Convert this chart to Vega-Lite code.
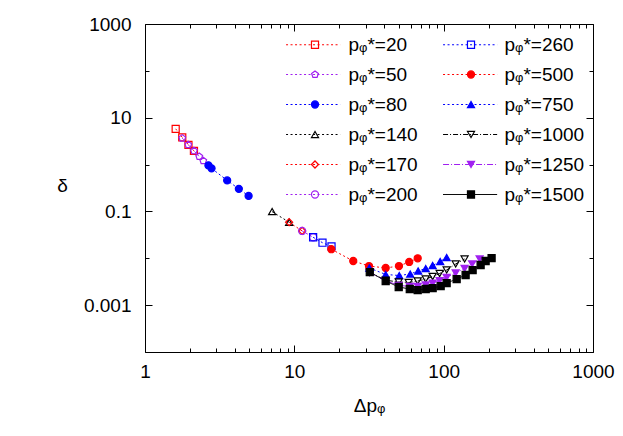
{
  "$schema": "https://vega.github.io/schema/vega-lite/v6.json",
  "width": 448,
  "height": 328,
  "autosize": "none",
  "padding": {"left": 145, "top": 24, "right": 30, "bottom": 84},
  "config": {
    "view": {"stroke": "#000", "strokeWidth": 1},
    "font": "Liberation Sans",
    "axis": {"domain": false, "grid": false, "labelFont": "Liberation Sans", "labelFontSize": 19, "labelColor": "#000", "tickColor": "#000", "tickWidth": 1, "titleFont": "Liberation Sans", "titleFontSize": 19, "titleFontWeight": "normal", "titleColor": "#000", "labelOverlap": false, "labelBound": false, "labelFlush": false}
  },
  "data": {"values": [
    {"p": 20, "dp": 1.605, "delta": 5.79}, {"p": 20, "dp": 1.776, "delta": 3.81}, {"p": 20, "dp": 1.954, "delta": 2.64}, {"p": 20, "dp": 2.127, "delta": 1.96},
    {"p": 50, "dp": 1.776, "delta": 3.66}, {"p": 50, "dp": 1.949, "delta": 2.64}, {"p": 50, "dp": 2.127, "delta": 1.96}, {"p": 50, "dp": 2.308, "delta": 1.48}, {"p": 50, "dp": 2.455, "delta": 1.2},
    {"p": 80, "dp": 2.66, "delta": 0.96}, {"p": 80, "dp": 2.79, "delta": 0.83}, {"p": 80, "dp": 3.55, "delta": 0.459}, {"p": 80, "dp": 4.25, "delta": 0.303}, {"p": 80, "dp": 4.94, "delta": 0.214},
    {"p": 140, "dp": 7.1, "delta": 0.099}, {"p": 140, "dp": 9.23, "delta": 0.0588},
    {"p": 170, "dp": 9.23, "delta": 0.0588}, {"p": 170, "dp": 11.28, "delta": 0.0383},
    {"p": 200, "dp": 11.28, "delta": 0.0383}, {"p": 200, "dp": 13.36, "delta": 0.0281},
    {"p": 260, "dp": 13.36, "delta": 0.0281}, {"p": 260, "dp": 15.44, "delta": 0.0215}, {"p": 260, "dp": 17.74, "delta": 0.0179},
    {"p": 500, "dp": 17.69, "delta": 0.0156}, {"p": 500, "dp": 24.8, "delta": 0.00875}, {"p": 500, "dp": 31.6, "delta": 0.00684}, {"p": 500, "dp": 40.9, "delta": 0.00621}, {"p": 500, "dp": 50.2, "delta": 0.00684}, {"p": 500, "dp": 58.8, "delta": 0.00834}, {"p": 500, "dp": 67.0, "delta": 0.01},
    {"p": 750, "dp": 31.8, "delta": 0.00621}, {"p": 750, "dp": 40.9, "delta": 0.00451}, {"p": 750, "dp": 50.4, "delta": 0.00429}, {"p": 750, "dp": 59.7, "delta": 0.00462}, {"p": 750, "dp": 67.5, "delta": 0.00536}, {"p": 750, "dp": 75.8, "delta": 0.00605}, {"p": 750, "dp": 84.4, "delta": 0.00702}, {"p": 750, "dp": 94.8, "delta": 0.00855}, {"p": 750, "dp": 104.7, "delta": 0.0104},
    {"p": 1000, "dp": 32.0, "delta": 0.005}, {"p": 1000, "dp": 40.9, "delta": 0.0034}, {"p": 1000, "dp": 50.0, "delta": 0.00312}, {"p": 1000, "dp": 58.3, "delta": 0.00304}, {"p": 1000, "dp": 67.0, "delta": 0.00327}, {"p": 1000, "dp": 75.8, "delta": 0.00361}, {"p": 1000, "dp": 84.4, "delta": 0.00408}, {"p": 1000, "dp": 94.0, "delta": 0.00473}, {"p": 1000, "dp": 104.7, "delta": 0.00562}, {"p": 1000, "dp": 120.3, "delta": 0.00755}, {"p": 1000, "dp": 138.1, "delta": 0.00966},
    {"p": 1250, "dp": 32.0, "delta": 0.005}, {"p": 1250, "dp": 40.9, "delta": 0.0033}, {"p": 1250, "dp": 50.0, "delta": 0.00265}, {"p": 1250, "dp": 59.3, "delta": 0.0025}, {"p": 1250, "dp": 67.0, "delta": 0.0025}, {"p": 1250, "dp": 75.8, "delta": 0.00269}, {"p": 1250, "dp": 84.4, "delta": 0.00296}, {"p": 1250, "dp": 94.0, "delta": 0.00335}, {"p": 1250, "dp": 104.7, "delta": 0.00389}, {"p": 1250, "dp": 120.3, "delta": 0.00485}, {"p": 1250, "dp": 138.1, "delta": 0.00605}, {"p": 1250, "dp": 155.1, "delta": 0.00755}, {"p": 1250, "dp": 174.1, "delta": 0.00966},
    {"p": 1500, "dp": 32.0, "delta": 0.00509}, {"p": 1500, "dp": 40.9, "delta": 0.00327}, {"p": 1500, "dp": 50.0, "delta": 0.00244}, {"p": 1500, "dp": 59.3, "delta": 0.00221}, {"p": 1500, "dp": 67.0, "delta": 0.0021}, {"p": 1500, "dp": 75.8, "delta": 0.00221}, {"p": 1500, "dp": 84.4, "delta": 0.00232}, {"p": 1500, "dp": 95.5, "delta": 0.00256}, {"p": 1500, "dp": 104.7, "delta": 0.00296}, {"p": 1500, "dp": 122.2, "delta": 0.00361}, {"p": 1500, "dp": 140.3, "delta": 0.0044}, {"p": 1500, "dp": 156.3, "delta": 0.00562}, {"p": 1500, "dp": 176.8, "delta": 0.00719}, {"p": 1500, "dp": 191.0, "delta": 0.00875}, {"p": 1500, "dp": 209.4, "delta": 0.0101}
  ]},
  "layer": [
    {
      "mark": {"type": "line", "strokeWidth": 1},
      "encoding": {
        "x": {"field": "dp", "type": "quantitative", "scale": {"type": "log", "domain": [1, 1000]},
          "axis": {"orient": "bottom", "values": [1,2,3,4,5,6,7,8,9,10,20,30,40,50,60,70,80,90,100,200,300,400,500,600,700,800,900,1000],
            "tickSize": {"condition": {"test": "datum.value==1||datum.value==10||datum.value==100||datum.value==1000", "value": -7}, "value": -4},
            "labelExpr": "(datum.value==1||datum.value==10||datum.value==100||datum.value==1000) ? format(datum.value,'d') : ''",
            "labelPadding": 17, "title": "Δpᵩ", "titleY": 53, "titleBaseline": "middle"}},
        "y": {"field": "delta", "type": "quantitative", "scale": {"type": "log", "domain": [0.0001, 1000]},
          "axis": {"orient": "left", "values": [0.0001,0.001,0.01,0.1,1,10,100,1000],
            "tickSize": {"condition": {"test": "datum.value>500||(datum.value>5&&datum.value<20)||(datum.value>0.05&&datum.value<0.2)||(datum.value>0.0005&&datum.value<0.002)", "value": -7}, "value": -4},
            "labelExpr": "datum.value>500 ? '1000' : (datum.value>5&&datum.value<20) ? '10' : (datum.value>0.05&&datum.value<0.2) ? '0.1' : (datum.value>0.0005&&datum.value<0.002) ? '0.001' : ''",
            "labelPadding": 21, "title": "δ", "titleAngle": 0, "titleX": -83, "titleY": 161, "titleAlign": "center", "titleBaseline": "middle"}},
        "color": {"field": "p", "type": "ordinal",
          "scale": {"domain": [20,50,80,140,170,200,260,500,750,1000,1250,1500], "range": ["#ff0000","#a020f0","#0000ff","#000000","#ff0000","#a020f0","#0000ff","#ff0000","#0000ff","#000000","#a020f0","#000000"]},
          "legend": {"orient": "none", "legendX": 137, "legendY": 11, "columns": 2, "columnPadding": 94, "rowPadding": 10, "title": null,
            "symbolType": "M-5,0L5,0", "symbolSize": 117, "symbolStrokeWidth": 1, "symbolOffset": 21.6,
            "labelFont": "Liberation Sans", "labelFontSize": 19, "labelColor": "#000", "labelOpacity": 0, "labelOffset": 22, "labelExpr": "'             '"}},
        "strokeDash": {"field": "p", "type": "ordinal",
          "scale": {"domain": [20,50,80,140,170,200,260,500,750,1000,1250,1500], "range": [[2,2.5],[2,2.5],[2,2.5],[2,2.5],[2,2.5],[2,2.5],[2,2.5],[2,2.5],[2,2.5],[5,2,1,2],[6,2,1,2],[1,0]]},
          "legend": {"orient": "none", "legendX": 137, "legendY": 11, "columns": 2, "columnPadding": 94, "rowPadding": 10, "title": null,
            "symbolType": "M-5,0L5,0", "symbolSize": 117, "symbolStrokeWidth": 1, "symbolOffset": 21.6,
            "labelFont": "Liberation Sans", "labelFontSize": 19, "labelColor": "#000", "labelOpacity": 0, "labelOffset": 22, "labelExpr": "'             '"}}
      }
    },
    {
      "mark": {"type": "point", "filled": true, "size": 50, "strokeWidth": 1.2, "opacity": 1},
      "encoding": {
        "x": {"field": "dp", "type": "quantitative", "scale": {"type": "log", "domain": [1, 1000]},
          "axis": {"orient": "top", "labels": false, "title": null, "values": [1,2,3,4,5,6,7,8,9,10,20,30,40,50,60,70,80,90,100,200,300,400,500,600,700,800,900,1000],
            "tickSize": {"condition": {"test": "datum.value==1||datum.value==10||datum.value==100||datum.value==1000", "value": -7}, "value": -4}}},
        "y": {"field": "delta", "type": "quantitative", "scale": {"type": "log", "domain": [0.0001, 1000]},
          "axis": {"orient": "right", "labels": false, "title": null, "values": [0.0001,0.001,0.01,0.1,1,10,100,1000],
            "tickSize": {"condition": {"test": "datum.value>500||(datum.value>5&&datum.value<20)||(datum.value>0.05&&datum.value<0.2)||(datum.value>0.0005&&datum.value<0.002)", "value": -7}, "value": -4}}},
        "stroke": {"field": "p", "type": "ordinal",
          "scale": {"range": ["#ff0000","#a020f0","#0000ff","#000000","#ff0000","#a020f0","#0000ff","#ff0000","#0000ff","#000000","#a020f0","#000000"]},
          "legend": {"orient": "none", "legendX": 137, "legendY": 11, "columns": 2, "columnPadding": 20, "rowPadding": 10, "title": null,
            "symbolSize": 50, "symbolStrokeWidth": 1.2, "symbolOffset": 23.5,
            "labelFont": "Liberation Sans", "labelFontSize": 19, "labelColor": "#000", "labelOffset": 24, "labelExpr": "'pᵩ*=' + datum.label"}},
        "fill": {"field": "p", "type": "ordinal",
          "scale": {"range": ["transparent","transparent","#0000ff","transparent","transparent","transparent","transparent","#ff0000","#0000ff","transparent","#a020f0","#000000"]},
          "legend": {"orient": "none", "legendX": 137, "legendY": 11, "columns": 2, "columnPadding": 20, "rowPadding": 10, "title": null,
            "symbolSize": 50, "symbolStrokeWidth": 1.2, "symbolOffset": 23.5,
            "labelFont": "Liberation Sans", "labelFontSize": 19, "labelColor": "#000", "labelOffset": 24, "labelExpr": "'pᵩ*=' + datum.label"}},
        "shape": {"field": "p", "type": "ordinal",
          "scale": {"range": ["square","M0,-1L0.951,-0.309L0.588,0.809L-0.588,0.809L-0.951,-0.309Z","circle","triangle-up","diamond","circle","square","circle","triangle-up","triangle-down","triangle-down","square"]},
          "legend": {"orient": "none", "legendX": 137, "legendY": 11, "columns": 2, "columnPadding": 20, "rowPadding": 10, "title": null,
            "symbolSize": 50, "symbolStrokeWidth": 1.2, "symbolOffset": 23.5,
            "labelFont": "Liberation Sans", "labelFontSize": 19, "labelColor": "#000", "labelOffset": 24, "labelExpr": "'pᵩ*=' + datum.label"}}
      }
    }
  ]
}
